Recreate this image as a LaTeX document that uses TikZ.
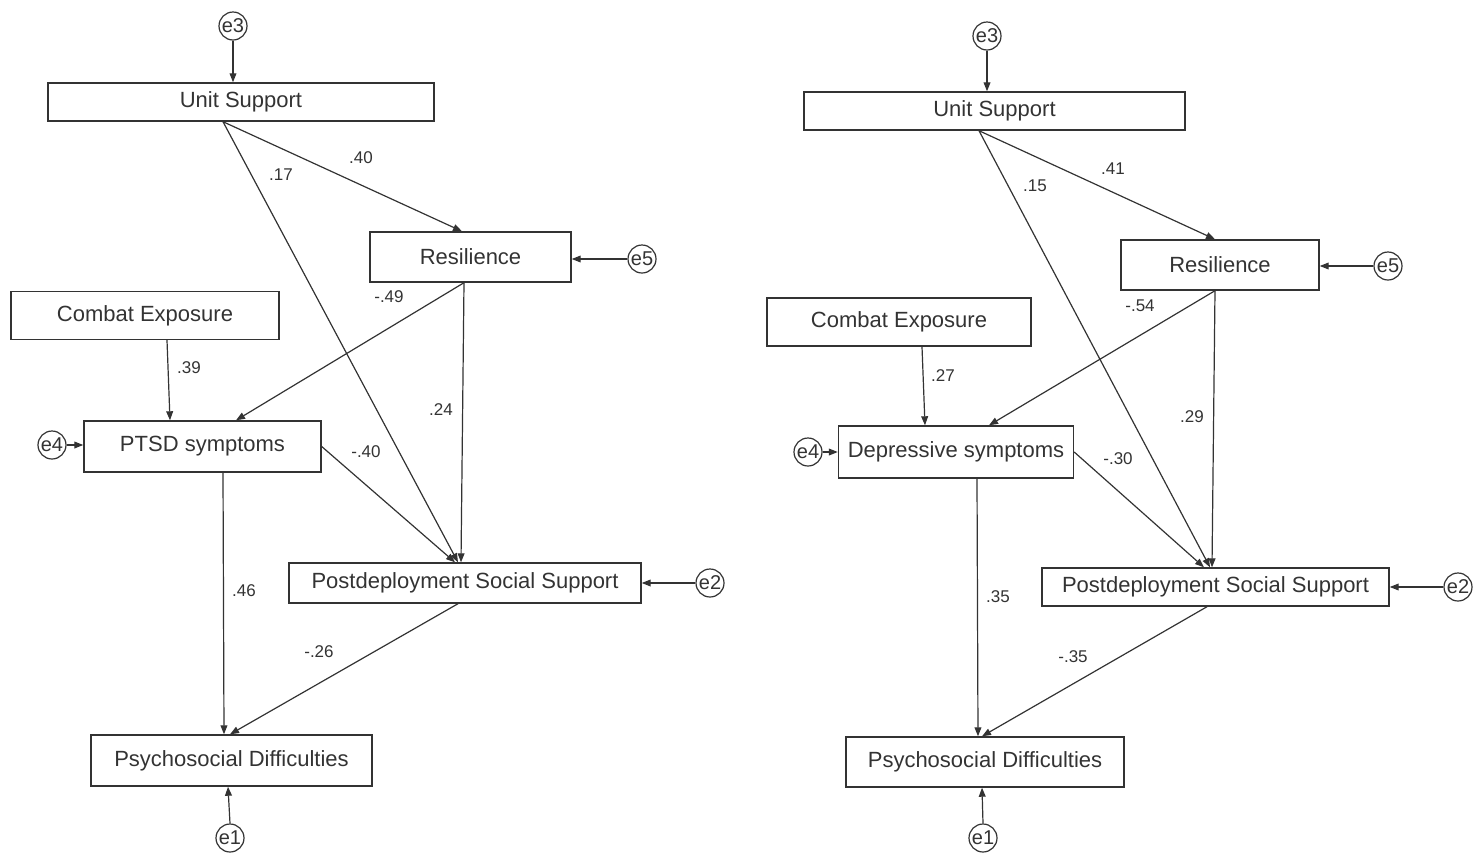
\documentclass[tikz,border=0pt]{standalone}
\usepackage{fontspec}
\setmainfont{Liberation Sans}
\usetikzlibrary{arrows.meta,calc}
\definecolor{ink}{HTML}{333333}
\begin{document}
\begin{tikzpicture}[x=0.5pt,y=-0.5pt,
  every node/.style={text=ink},
  box/.style={draw=ink,line width=0.7pt,inner sep=0pt,font=\fontsize{11pt}{12pt}\selectfont},
  err/.style={draw=ink,circle,line width=0.6pt,inner sep=0pt,minimum size=14pt,font=\fontsize{10pt}{11pt}\selectfont},
  coef/.style={inner sep=0pt,font=\fontsize{8.5pt}{9pt}\selectfont},
  path/.style={draw=ink,line width=0.6pt,-{Triangle[length=4.5pt,width=3.4pt]}}]
\useasboundingbox (0,0) rectangle (1473,852);
% ---------- left model ----------
\node[box,minimum width=193pt,minimum height=19pt] (US1) at (241,102) {Unit Support};
\node[box,minimum width=100.5pt,minimum height=25pt] (Res1) at (470.5,257) {Resilience};
\node[box,minimum width=134pt,minimum height=24pt] (CE1) at (145,315.5) {Combat Exposure};
\node[box,minimum width=118.5pt,minimum height=25.5pt] (PT1) at (202.5,446.5) {PTSD symptoms};
\node[box,minimum width=176pt,minimum height=20pt] (PS1) at (465,583) {Postdeployment Social Support};
\node[box,minimum width=140.5pt,minimum height=25.5pt] (PD1) at (231.5,760.5) {Psychosocial Difficulties};
\node[err] (e3a) at (233,26) {e3};
\node[err] (e5a) at (642,259) {e5};
\node[err] (e4a) at (52,445) {e4};
\node[err] (e2a) at (710,583) {e2};
\node[err] (e1a) at (230,838) {e1};
\draw[path] (e3a.south) -- (e3a.south |- US1.north);
\draw[path] ($(US1.south)+(-18,0)$) -- ($(Res1.north)+(-8.5,0)$);
\draw[path] ($(US1.south)+(-18,0)$) -- ($(PS1.north)+(-7,0)$);
\draw[path] ($(Res1.south)+(-6.5,0)$) -- ($(PT1.north)+(33.5,0)$);
\draw[path] ($(Res1.south)+(-6.5,0)$) -- ($(PS1.north)+(-4,0)$);
\draw[path] ($(CE1.south)+(22,0)$) -- ($(PT1.north)+(-32.5,0)$);
\draw[path] (PT1.east) -- ($(PS1.north)+(-10,0)$);
\draw[path] ($(PT1.south)+(20.5,0)$) -- ($(PD1.north)+(-7.5,0)$);
\draw[path] ($(PS1.south)+(-7,0)$) -- ($(PD1.north)+(-1.5,0)$);
\draw[path] (e5a.west) -- (Res1.east |- e5a.west);
\draw[path] (e4a.east) -- (PT1.west |- e4a.east);
\draw[path] (e2a.west) -- (PS1.east |- e2a.west);
\draw[path] (e1a.north) -- ($(PD1.south)+(-3.5,0)$);
\node[coef] (c1) at (361,158) {.40};
\node[coef] (c2) at (281,175) {.17};
\node[coef] (c3) at (389,297) {-.49};
\node[coef] (c4) at (441,410) {.24};
\node[coef] (c5) at (189,368) {.39};
\node[coef] (c6) at (366,452) {-.40};
\node[coef] (c7) at (244,591) {.46};
\node[coef] (c8) at (319,652) {-.26};
% ---------- right model ----------
\node[box,minimum width=190.5pt,minimum height=19pt] (US2) at (994.5,111) {Unit Support};
\node[box,minimum width=99pt,minimum height=25pt] (Res2) at (1220,265) {Resilience};
\node[box,minimum width=132pt,minimum height=24pt] (CE2) at (899,322) {Combat Exposure};
\node[box,minimum width=117.5pt,minimum height=26pt] (DS2) at (956,452) {Depressive symptoms};
\node[box,minimum width=173.5pt,minimum height=19pt] (PS2) at (1215.5,587) {Postdeployment Social Support};
\node[box,minimum width=139pt,minimum height=25pt] (PD2) at (985,762) {Psychosocial Difficulties};
\node[err] (e3b) at (987,36) {e3};
\node[err] (e5b) at (1388,266) {e5};
\node[err] (e4b) at (808,452) {e4};
\node[err] (e2b) at (1458,587) {e2};
\node[err] (e1b) at (983,838) {e1};
\draw[path] (e3b.south) -- (e3b.south |- US2.north);
\draw[path] ($(US2.south)+(-15.5,0)$) -- ($(Res2.north)+(-5,0)$);
\draw[path] ($(US2.south)+(-15.5,0)$) -- ($(PS2.north)+(-5.5,0)$);
\draw[path] ($(Res2.south)+(-5,0)$) -- ($(DS2.north)+(33,0)$);
\draw[path] ($(Res2.south)+(-5,0)$) -- ($(PS2.north)+(-3.5,0)$);
\draw[path] ($(CE2.south)+(23,0)$) -- ($(DS2.north)+(-31,0)$);
\draw[path] (DS2.east) -- ($(PS2.north)+(-11.5,0)$);
\draw[path] ($(DS2.south)+(21,0)$) -- ($(PD2.north)+(-7,0)$);
\draw[path] ($(PS2.south)+(-8.5,0)$) -- ($(PD2.north)+(-3,0)$);
\draw[path] (e5b.west) -- (Res2.east |- e5b.west);
\draw[path] (e4b.east) -- (DS2.west |- e4b.east);
\draw[path] (e2b.west) -- (PS2.east |- e2b.west);
\draw[path] (e1b.north) -- ($(PD2.south)+(-3,0)$);
\node[coef] (d1) at (1113,169) {.41};
\node[coef] (d2) at (1035,186) {.15};
\node[coef] (d3) at (1140,306) {-.54};
\node[coef] (d4) at (1192,417) {.29};
\node[coef] (d5) at (943,376) {.27};
\node[coef] (d6) at (1118,459) {-.30};
\node[coef] (d7) at (998,597) {.35};
\node[coef] (d8) at (1073,657) {-.35};
\end{tikzpicture}
\end{document}
